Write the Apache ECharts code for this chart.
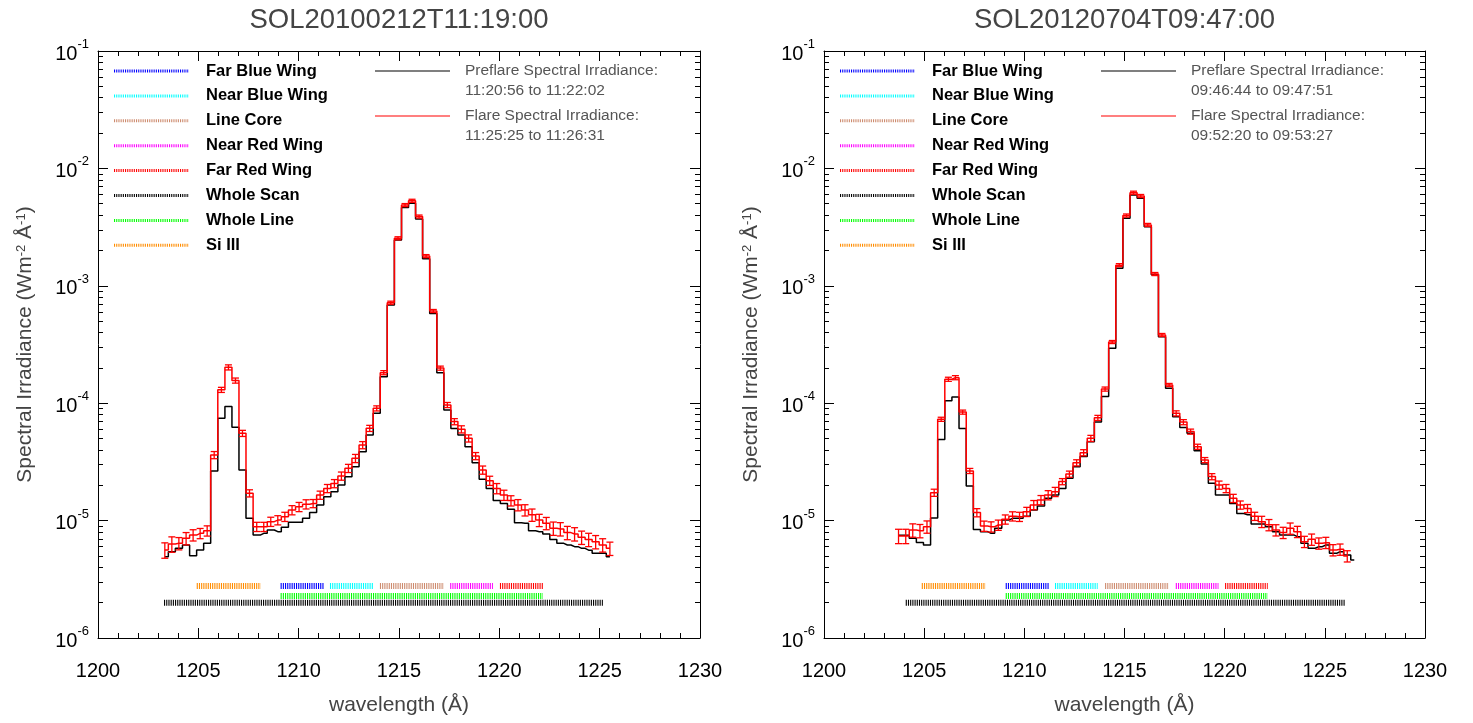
<!DOCTYPE html>
<html><head><meta charset="utf-8">
<script src="https://cdn.jsdelivr.net/npm/echarts@6/dist/echarts.min.js"></script>
<style>html,body{margin:0;padding:0;background:#fff}#c{width:1473px;height:723px}</style>
</head><body><div id="c"></div>
<script>
// ---------- data ----------
const titles = ['SOL20100212T11:19:00', 'SOL20120704T09:47:00'];
const preTimes = ['11:20:56 to 11:22:02', '09:46:44 to 09:47:51'];
const flareTimes = ['11:25:25 to 11:26:31', '09:52:20 to 09:53:27'];
const xTickLabels = [1200, 1205, 1210, 1215, 1220, 1225, 1230];
const yTickLabels = [1e-6, 1e-5, 1e-4, 1e-3, 1e-2, 1e-1];

const bandNames = ['Far Blue Wing', 'Near Blue Wing', 'Line Core', 'Near Red Wing', 'Far Red Wing', 'Whole Scan', 'Whole Line', 'Si III'];
const bandColors = ['#0000ff', '#00ffff', '#cd8b6e', '#ff00ff', '#ff0000', '#000000', '#00ff00', '#ff8c00'];
const bandLevels = [2.77e-6, 2.77e-6, 2.77e-6, 2.77e-6, 2.77e-6, 2.0e-6, 2.28e-6, 2.77e-6];
const bandRangesL = [[1209.10, 1211.24], [1211.56, 1213.70], [1214.05, 1217.24], [1217.55, 1219.68], [1220.03, 1222.17], [1203.29, 1225.16], [1209.10, 1222.17], [1204.92, 1208.11]];
const bandRangesR = [[1209.07, 1211.22], [1211.53, 1213.66], [1214.03, 1217.22], [1217.56, 1219.69], [1220.02, 1222.15], [1204.08, 1226.01], [1209.07, 1222.15], [1204.88, 1208.07]];

// left panel (SOL20100212)
const wlL = [1203.33,1203.68,1204.03,1204.39,1204.74,1205.09,1205.44,1205.79,1206.15,1206.50,1206.85,1207.20,1207.55,1207.91,1208.26,1208.61,1208.96,1209.31,1209.67,1210.02,1210.37,1210.72,1211.07,1211.43,1211.78,1212.13,1212.48,1212.83,1213.19,1213.54,1213.89,1214.24,1214.59,1214.95,1215.30,1215.65,1216.00,1216.35,1216.71,1217.06,1217.41,1217.76,1218.11,1218.47,1218.82,1219.17,1219.52,1219.87,1220.23,1220.58,1220.93,1221.28,1221.63,1221.99,1222.34,1222.69,1223.04,1223.39,1223.75,1224.10,1224.45,1224.80,1225.15,1225.51];
const preL = [4.93e-6,5.43e-6,5.81e-6,6.2e-6,5.03e-6,5.62e-6,6.4e-6,2.65e-5,7.45e-5,9.37e-5,6.24e-5,2.70e-5,1.045e-5,7.53e-6,7.79e-6,8.32e-6,8.05e-6,8.77e-6,9.67e-6,9.67e-6,1.045e-5,1.17e-5,1.36e-5,1.60e-5,1.76e-5,2.01e-5,2.36e-5,2.88e-5,3.86e-5,5.36e-5,8.2e-5,1.68e-4,6.87e-4,2.45e-3,4.65e-3,5.05e-3,3.7e-3,1.7e-3,5.8e-4,1.82e-4,8.75e-5,6.1e-5,5.36e-5,4.26e-5,3.11e-5,2.25e-5,1.88e-5,1.48e-5,1.40e-5,1.25e-5,9.6e-6,9.5e-6,8.2e-6,8.05e-6,7.7e-6,6.9e-6,6.4e-6,6.2e-6,6.0e-6,5.8e-6,5.6e-6,5.26e-6,5.26e-6,4.93e-6];
const flareL = [5.62e-6,6.32e-6,6.4e-6,7.06e-6,7.53e-6,7.79e-6,8.2e-6,3.62e-5,1.30e-4,2.02e-4,1.56e-4,5.54e-5,1.71e-5,8.87e-6,8.87e-6,9.8e-6,1.01e-5,1.08e-5,1.23e-5,1.31e-5,1.38e-5,1.40e-5,1.65e-5,1.88e-5,2.07e-5,2.40e-5,2.79e-5,3.39e-5,4.40e-5,6.11e-5,9.04e-5,1.82e-4,7.18e-4,2.54e-3,4.87e-3,5.3e-3,3.89e-3,1.79e-3,6.1e-4,1.99e-4,9.66e-5,6.97e-5,6.0e-5,5.02e-5,3.55e-5,2.70e-5,2.19e-5,1.88e-5,1.65e-5,1.48e-5,1.36e-5,1.23e-5,1.12e-5,1.01e-5,9.5e-6,8.6e-6,8.5e-6,7.9e-6,7.7e-6,7.2e-6,6.9e-6,6.6e-6,6.2e-6,5.8e-6];
const errL = [0.15,0.15,0.12,0.12,0.11,0.10,0.10,0.07,0.05,0.05,0.05,0.06,0.07,0.09,0.09,0.09,0.09,0.09,0.09,0.09,0.09,0.08,0.08,0.08,0.08,0.08,0.08,0.08,0.07,0.06,0.05,0.04,0.03,0.03,0.03,0.03,0.03,0.03,0.03,0.04,0.05,0.06,0.07,0.07,0.07,0.08,0.09,0.10,0.10,0.10,0.11,0.11,0.12,0.12,0.12,0.13,0.13,0.13,0.13,0.13,0.13,0.13,0.13,0.13];

// right panel (SOL20120704)
const wlR = [1203.72,1204.08,1204.43,1204.79,1205.14,1205.50,1205.85,1206.21,1206.56,1206.92,1207.28,1207.63,1207.99,1208.34,1208.70,1209.05,1209.41,1209.76,1210.12,1210.47,1210.83,1211.19,1211.54,1211.90,1212.25,1212.61,1212.96,1213.32,1213.67,1214.03,1214.39,1214.74,1215.10,1215.45,1215.81,1216.16,1216.52,1216.87,1217.23,1217.58,1217.94,1218.30,1218.65,1219.01,1219.36,1219.72,1220.07,1220.43,1220.78,1221.14,1221.50,1221.85,1222.21,1222.56,1222.92,1223.27,1223.63,1223.98,1224.34,1224.70,1225.05,1225.41,1225.76,1226.12,1226.47];
const preR = [7.5e-6,7.5e-6,7.06e-6,6.5e-6,6.2e-6,1.05e-5,4.9e-5,1.05e-4,1.13e-4,6.1e-5,1.97e-5,8.4e-6,8.05e-6,7.8e-6,8.6e-6,1.01e-5,1.045e-5,1.045e-5,1.09e-5,1.23e-5,1.33e-5,1.55e-5,1.65e-5,1.88e-5,2.29e-5,2.88e-5,3.51e-5,4.7e-5,6.9e-5,1.14e-4,2.94e-4,1.41e-3,3.76e-3,5.93e-3,5.56e-3,3.19e-3,1.24e-3,3.69e-4,1.34e-4,7.67e-5,6.2e-5,5.54e-5,3.94e-5,3.03e-5,2.08e-5,1.65e-5,1.65e-5,1.40e-5,1.15e-5,1.12e-5,9.35e-6,9.35e-6,8.87e-6,8.05e-6,7.55e-6,7.55e-6,7.3e-6,6.41e-6,5.81e-6,6.0e-6,6.2e-6,5.26e-6,5.43e-6,5.09e-6,4.61e-6];
const flareR = [7.4e-6,7.4e-6,8.3e-6,8.2e-6,8.87e-6,1.73e-5,7.3e-5,1.60e-4,1.65e-4,8.4e-5,2.65e-5,1.17e-5,9.0e-6,8.87e-6,9.18e-6,1.025e-5,1.09e-5,1.08e-5,1.19e-5,1.36e-5,1.50e-5,1.65e-5,1.76e-5,2.15e-5,2.49e-5,3.11e-5,3.79e-5,5.02e-5,7.5e-5,1.32e-4,3.32e-4,1.50e-3,3.97e-3,6.21e-3,5.82e-3,3.30e-3,1.26e-3,3.81e-4,1.43e-4,8.2e-5,6.9e-5,5.73e-5,4.26e-5,3.28e-5,2.37e-5,2.01e-5,1.88e-5,1.55e-5,1.36e-5,1.27e-5,1.09e-5,9.8e-6,9.2e-6,8.31e-6,7.9e-6,8.59e-6,8.05e-6,6.62e-6,6.92e-6,6.41e-6,6.49e-6,5.62e-6,5.69e-6,4.99e-6];
const errR = [0.14,0.14,0.13,0.13,0.12,0.07,0.04,0.04,0.04,0.04,0.05,0.08,0.10,0.10,0.10,0.09,0.09,0.09,0.09,0.09,0.09,0.09,0.09,0.06,0.06,0.06,0.06,0.06,0.05,0.04,0.03,0.03,0.03,0.03,0.03,0.03,0.03,0.03,0.03,0.05,0.05,0.05,0.05,0.05,0.06,0.08,0.08,0.08,0.08,0.08,0.08,0.11,0.11,0.11,0.11,0.11,0.11,0.11,0.11,0.11,0.11,0.11,0.11,0.11];

// ---------- layout ----------
const FONT = 'Liberation Sans, Arial, Helvetica, sans-serif';
const GL = [98, 824];          // grid left edges
const GW = [602, 601];         // grid widths
const GT = 51, GH = 587;

const panels = [
  {wl: wlL, pre: preL, flare: flareL, err: errL, bands: bandRangesL},
  {wl: wlR, pre: preR, flare: flareR, err: errR, bands: bandRangesR}
];

function xAxis(g, pos, show) {
  return {
    type: 'value', gridIndex: g, position: pos, min: xTickLabels[0], max: xTickLabels[xTickLabels.length - 1], interval: 5,
    axisLine: {show: true, onZero: false, lineStyle: {color: '#000', width: 1}},
    axisTick: {show: true, inside: true, length: 10, lineStyle: {color: '#000', width: 1}},
    minorTick: {show: true, splitNumber: 5, length: 5, lineStyle: {color: '#000', width: 1}},
    splitLine: {show: false}, minorSplitLine: {show: false},
    axisLabel: {show: show, margin: 23, fontSize: 20, color: '#000', fontFamily: FONT, formatter: v => String(v)},
    name: show ? 'wavelength (Å)' : '', nameLocation: 'middle', nameGap: 57,
    nameTextStyle: {fontSize: 21, color: '#444', fontFamily: FONT}
  };
}
function yAxis(g, pos, show) {
  return {
    type: 'log', logBase: 10, gridIndex: g, position: pos, min: yTickLabels[0], max: yTickLabels[yTickLabels.length - 1],
    axisLine: {show: true, onZero: false, lineStyle: {color: '#000', width: 1}},
    axisTick: {show: true, inside: true, length: 10, lineStyle: {color: '#000', width: 1}},
    minorTick: {show: true, splitNumber: 9, length: 5, lineStyle: {color: '#000', width: 1}},
    splitLine: {show: false}, minorSplitLine: {show: false},
    axisLabel: {
      show: show, margin: 9,
      formatter: v => '{b|10}{s|' + Math.round(Math.log10(v)) + '}',
      rich: {
        b: {fontSize: 20, color: '#000', fontFamily: FONT, verticalAlign: 'bottom', lineHeight: 26},
        s: {fontSize: 13, color: '#000', fontFamily: FONT, verticalAlign: 'top', lineHeight: 14}
      }
    },
    name: show ? 'Spectral Irradiance (Wm{s|-2} Å{s|-1})' : '', nameLocation: 'middle', nameGap: 62, nameRotate: 90,
    nameTextStyle: {
      fontSize: 21, color: '#444', fontFamily: FONT,
      rich: {s: {fontSize: 13, color: '#444', fontFamily: FONT, verticalAlign: 'top', lineHeight: 14}}
    }
  };
}

const grid = [0, 1].map(g => ({left: GL[g], top: GT, width: GW[g], height: GH}));
const xAxes = [], yAxes = [];
[0, 1].forEach(g => {
  xAxes.push(xAxis(g, 'bottom', true));
  xAxes.push(xAxis(g, 'top', false));
  yAxes.push(yAxis(g, 'left', true));
  yAxes.push(yAxis(g, 'right', false));
});

function errRender(params, api) {
  const x = api.value(0), y = api.value(1), e = api.value(2);
  const t = api.coord([x, y * (1 + e)]);
  const b = api.coord([x, y * (1 - e)]);
  const hw = 3.5;
  const st = {stroke: '#ff0000', lineWidth: 1.3};
  return {type: 'group', children: [
    {type: 'line', shape: {x1: t[0], y1: t[1], x2: b[0], y2: b[1]}, style: st},
    {type: 'line', shape: {x1: t[0] - hw, y1: t[1], x2: t[0] + hw, y2: t[1]}, style: st},
    {type: 'line', shape: {x1: b[0] - hw, y1: b[1], x2: b[0] + hw, y2: b[1]}, style: st}
  ]};
}

const series = [];
panels.forEach((p, g) => {
  const xi = g * 2, yi = g * 2;
  p.bands.forEach((r, i) => {
    series.push({
      type: 'line', xAxisIndex: xi, yAxisIndex: yi, silent: true, symbol: 'none', animation: false, z: 1,
      data: [[r[0], bandLevels[i]], [r[1], bandLevels[i]]],
      lineStyle: {color: bandColors[i], width: 6, type: [1.1, 1.1], cap: 'butt'}
    });
  });
  series.push({
    type: 'line', name: 'pre' + g, xAxisIndex: xi, yAxisIndex: yi, step: 'middle', symbol: 'none', animation: false, z: 2,
    data: p.pre.map((v, i) => [p.wl[i], v]),
    lineStyle: {color: '#000', width: 1.5}
  });
  series.push({
    type: 'line', name: 'flare' + g, xAxisIndex: xi, yAxisIndex: yi, step: 'middle', symbol: 'none', animation: false, z: 3,
    data: p.flare.map((v, i) => [p.wl[i], v]),
    lineStyle: {color: '#ff0000', width: 1.5}
  });
  series.push({
    type: 'custom', xAxisIndex: xi, yAxisIndex: yi, animation: false, z: 4, silent: true,
    renderItem: errRender, encode: {x: 0, y: 1},
    data: p.flare.map((v, i) => [p.wl[i], v, p.err[i]])
  });
});

// legends & titles as graphic text
const graphic = [];
[0, 1].forEach(g => {
  const L = GL[g];
  graphic.push({type: 'text', x: L + GW[g] / 2, y: 20, style: {text: titles[g], font: '27.5px ' + FONT, fill: '#444', align: 'center', verticalAlign: 'middle'}});
  bandNames.forEach((n, i) => {
    const y = 71 + 24.9 * i;
    graphic.push({type: 'line', shape: {x1: L + 16, y1: y, x2: L + 91, y2: y}, style: {stroke: bandColors[i], lineWidth: 3, lineDash: [1.1, 1.1]}});
    graphic.push({type: 'text', x: L + 108, y: y, style: {text: n, font: 'bold 16.5px ' + FONT, fill: '#000', verticalAlign: 'middle'}});
  });
  graphic.push({type: 'line', shape: {x1: L + 277, y1: 71, x2: L + 352, y2: 71}, style: {stroke: '#000', lineWidth: 1.2}});
  graphic.push({type: 'line', shape: {x1: L + 277, y1: 116, x2: L + 352, y2: 116}, style: {stroke: '#ff0000', lineWidth: 1.2}});
  const tx = [['Preflare Spectral Irradiance:', 71], [preTimes[g], 91], ['Flare Spectral Irradiance:', 116], [flareTimes[g], 136]];
  tx.forEach(t => graphic.push({type: 'text', x: L + 367, y: t[1], style: {text: t[0], font: '15.5px ' + FONT, fill: '#555', verticalAlign: 'middle'}}));
});

const chart = echarts.init(document.getElementById('c'), null, {renderer: 'canvas'});
chart.setOption({
  animation: false,
  backgroundColor: '#fff',
  grid: grid,
  xAxis: xAxes,
  yAxis: yAxes,
  series: series,
  graphic: graphic
});
</script></body></html>
